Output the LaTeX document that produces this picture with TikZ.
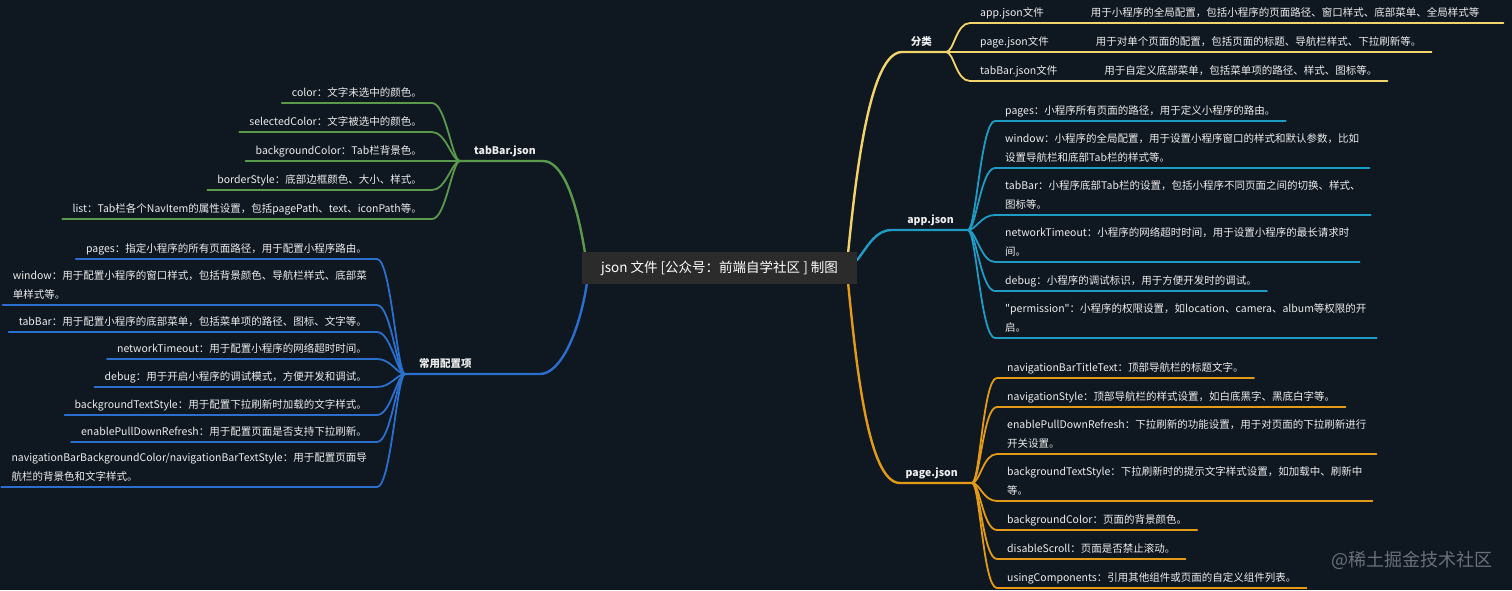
\documentclass[tikz,border=0pt]{standalone}
\usepackage{fontspec}
\setmainfont{Noto Sans CJK SC}[Ligatures=TeXOff]
\usepackage{tikz}

\definecolor{bgc}{HTML}{0F1720}
\definecolor{rootc}{HTML}{2B2B2B}
\definecolor{txtc}{HTML}{EDEDED}
\definecolor{yelc}{HTML}{F2D46B}
\definecolor{cyac}{HTML}{1F9CC4}
\definecolor{orac}{HTML}{E39B17}
\definecolor{grnc}{HTML}{5A9A4C}
\definecolor{bluc}{HTML}{2B6FCE}
\definecolor{wmc}{HTML}{6B7078}

\pgfdeclarelayer{bgl}
\pgfdeclarelayer{lnl}
\pgfsetlayers{bgl,lnl,main}

\begin{document}
\begin{tikzpicture}[
    x=1pt, y=-1pt,
    root/.style={rectangle, fill=rootc, text=white, minimum width=275pt,
                 minimum height=32pt, font=\fontsize{13.5}{16}\selectfont},
    topic/.style={inner xsep=14pt, inner ysep=3pt, text depth=3pt, text=txtc,
                  font=\fontsize{10.5}{18.5}\selectfont\bfseries},
    leaf/.style={inner xsep=10pt, inner ysep=3pt, text depth=3.5pt, text=txtc,
                 align=left, font=\fontsize{10.5}{18.5}\selectfont},
    br/.style={line width=2.4pt, line cap=round},
    sub/.style={line width=1.8pt, line cap=round}
]
\begin{pgfonlayer}{bgl}
\fill[bgc] (0,0) rectangle (1512,590);
\end{pgfonlayer}
\useasboundingbox (0,0) rectangle (1512,590);

\node[root] (root) at (719.5,268) {json 文件 [公众号：前端自学社区 ] 制图};

% main topics
\node[topic, anchor=south east] (fl) at (946,52) {分类};
\node[topic, anchor=south east] (ap) at (968,230) {app.json};
\node[topic, anchor=south east] (pg) at (972,483) {page.json};
\node[topic, anchor=south west] (tb) at (460,161) {tabBar.json};
\node[topic, anchor=south west] (cy) at (405,374) {常用配置项};

\coordinate (fl-in) at (902,52);
\coordinate (ap-in) at (892,230);
\coordinate (pg-in) at (900,483);
\coordinate (tb-in) at (543,161);
\coordinate (cy-in) at (540,374);

% 分类
\node[leaf, anchor=south west] (c1) at (970,23) {app.json文件\hspace{47pt}用于小程序的全局配置，包括小程序的页面路径、窗口样式、底部菜单、全局样式等\hspace{14pt}};
\node[leaf, anchor=south west] (c2) at (970,52) {page.json文件\hspace{47pt}用于对单个页面的配置，包括页面的标题、导航栏样式、下拉刷新等。};
\node[leaf, anchor=south west] (c3) at (970,81) {tabBar.json文件\hspace{47pt}用于自定义底部菜单，包括菜单项的路径、样式、图标等。};

% app.json
\node[leaf, anchor=south west] (a1) at (995,121) {pages：小程序所有页面的路径，用于定义小程序的路由。};
\node[leaf, anchor=south west] (a2) at (995,168) {window：小程序的全局配置，用于设置小程序窗口的样式和默认参数，比如\\设置导航栏和底部Tab栏的样式等。};
\node[leaf, anchor=south west] (a3) at (995,215) {tabBar：小程序底部Tab栏的设置，包括小程序不同页面之间的切换、样式、\\图标等。};
\node[leaf, anchor=south west] (a4) at (995,262) {networkTimeout：小程序的网络超时时间，用于设置小程序的最长请求时\\间。};
\node[leaf, anchor=south west] (a5) at (995,291) {debug：小程序的调试标识，用于方便开发时的调试。};
\node[leaf, anchor=south west] (a6) at (995,338) {"permission"：小程序的权限设置，如location、camera、album等权限的开\\启。};

% page.json
\node[leaf, anchor=south west] (p1) at (997,378) {navigationBarTitleText：顶部导航栏的标题文字。};
\node[leaf, anchor=south west] (p2) at (997,407) {navigationStyle：顶部导航栏的样式设置，如白底黑字、黑底白字等。};
\node[leaf, anchor=south west] (p3) at (997,454) {enablePullDownRefresh：下拉刷新的功能设置，用于对页面的下拉刷新进行\\开关设置。};
\node[leaf, anchor=south west] (p4) at (997,501) {backgroundTextStyle：下拉刷新时的提示文字样式设置，如加载中、刷新中\\等。};
\node[leaf, anchor=south west] (p5) at (997,530) {backgroundColor：页面的背景颜色。};
\node[leaf, anchor=south west] (p6) at (997,559) {disableScroll：页面是否禁止滚动。};
\node[leaf, anchor=south west] (p7) at (997,588) {usingComponents：引用其他组件或页面的自定义组件列表。};

% tabBar.json
\node[leaf, anchor=south east] (t1) at (432,103) {color：文字未选中的颜色。};
\node[leaf, anchor=south east] (t2) at (432,132) {selectedColor：文字被选中的颜色。};
\node[leaf, anchor=south east] (t3) at (432,161) {backgroundColor：Tab栏背景色。};
\node[leaf, anchor=south east] (t4) at (432,190) {borderStyle：底部边框颜色、大小、样式。};
\node[leaf, anchor=south east] (t5) at (432,219) {list：Tab栏各个NavItem的属性设置，包括pagePath、text、iconPath等。};

% 常用配置项
\node[leaf, anchor=south east] (u1) at (377,259) {pages：指定小程序的所有页面路径，用于配置小程序路由。};
\node[leaf, anchor=south east] (u2) at (377,305) {window：用于配置小程序的窗口样式，包括背景颜色、导航栏样式、底部菜\\单样式等。};
\node[leaf, anchor=south east] (u3) at (377,332) {tabBar：用于配置小程序的底部菜单，包括菜单项的路径、图标、文字等。};
\node[leaf, anchor=south east] (u4) at (377,359) {networkTimeout：用于配置小程序的网络超时时间。};
\node[leaf, anchor=south east] (u5) at (377,387) {debug：用于开启小程序的调试模式，方便开发和调试。};
\node[leaf, anchor=south east] (u6) at (377,415) {backgroundTextStyle：用于配置下拉刷新时加载的文字样式。};
\node[leaf, anchor=south east] (u7) at (377,442) {enablePullDownRefresh：用于配置页面是否支持下拉刷新。};
\node[leaf, anchor=south east] (u8) at (377,487) {navigationBarBackgroundColor/navigationBarTextStyle：用于配置页面导\\航栏的背景色和文字样式。};

\node[font=\fontsize{18}{20}\selectfont, text=wmc] (wm) at (1412,560) {@稀土掘金技术社区};

\begin{pgfonlayer}{lnl}
\draw[br, yelc] ([xshift=-9pt]root.north east) .. controls +(8,-80) and +(-32,0) .. (fl-in) -- (fl.south east);
\draw[br, cyac] ([yshift=8pt]root.east) .. controls +(12,-16) and +(-16,0) .. (ap-in) -- (ap.south east);
\draw[br, orac] ([xshift=-9pt]root.south east) .. controls +(8,80) and +(-32,0) .. (pg-in) -- (pg.south east);
\draw[br, grnc] ([xshift=3pt]root.north west) .. controls +(-8,-50) and +(20,0) .. (tb-in) -- (tb.south west);
\draw[br, bluc] ([xshift=5pt]root.south west) .. controls +(-8,50) and +(20,0) .. (cy-in) -- (cy.south west);

\foreach \n in {c1,c2,c3}
  \draw[sub, yelc] (fl.south east) .. controls +(8,0) and +(-14,0) .. (\n.south west) -- (\n.south east);
\foreach \n in {a1,a2,a3,a4,a5,a6}
  \draw[sub, cyac] (ap.south east) .. controls +(8,0) and +(-14,0) .. (\n.south west) -- (\n.south east);
\foreach \n in {p1,p2,p3,p4,p5,p6,p7}
  \draw[sub, orac] (pg.south east) .. controls +(8,0) and +(-14,0) .. (\n.south west) -- (\n.south east);
\foreach \n in {t1,t2,t3,t4,t5}
  \draw[sub, grnc] (tb.south west) .. controls +(-8,0) and +(14,0) .. (\n.south east) -- (\n.south west);
\foreach \n in {u1,u2,u3,u4,u5,u6,u7,u8}
  \draw[sub, bluc] (cy.south west) .. controls +(-8,0) and +(14,0) .. (\n.south east) -- (\n.south west);
\end{pgfonlayer}
\end{tikzpicture}
\end{document}
